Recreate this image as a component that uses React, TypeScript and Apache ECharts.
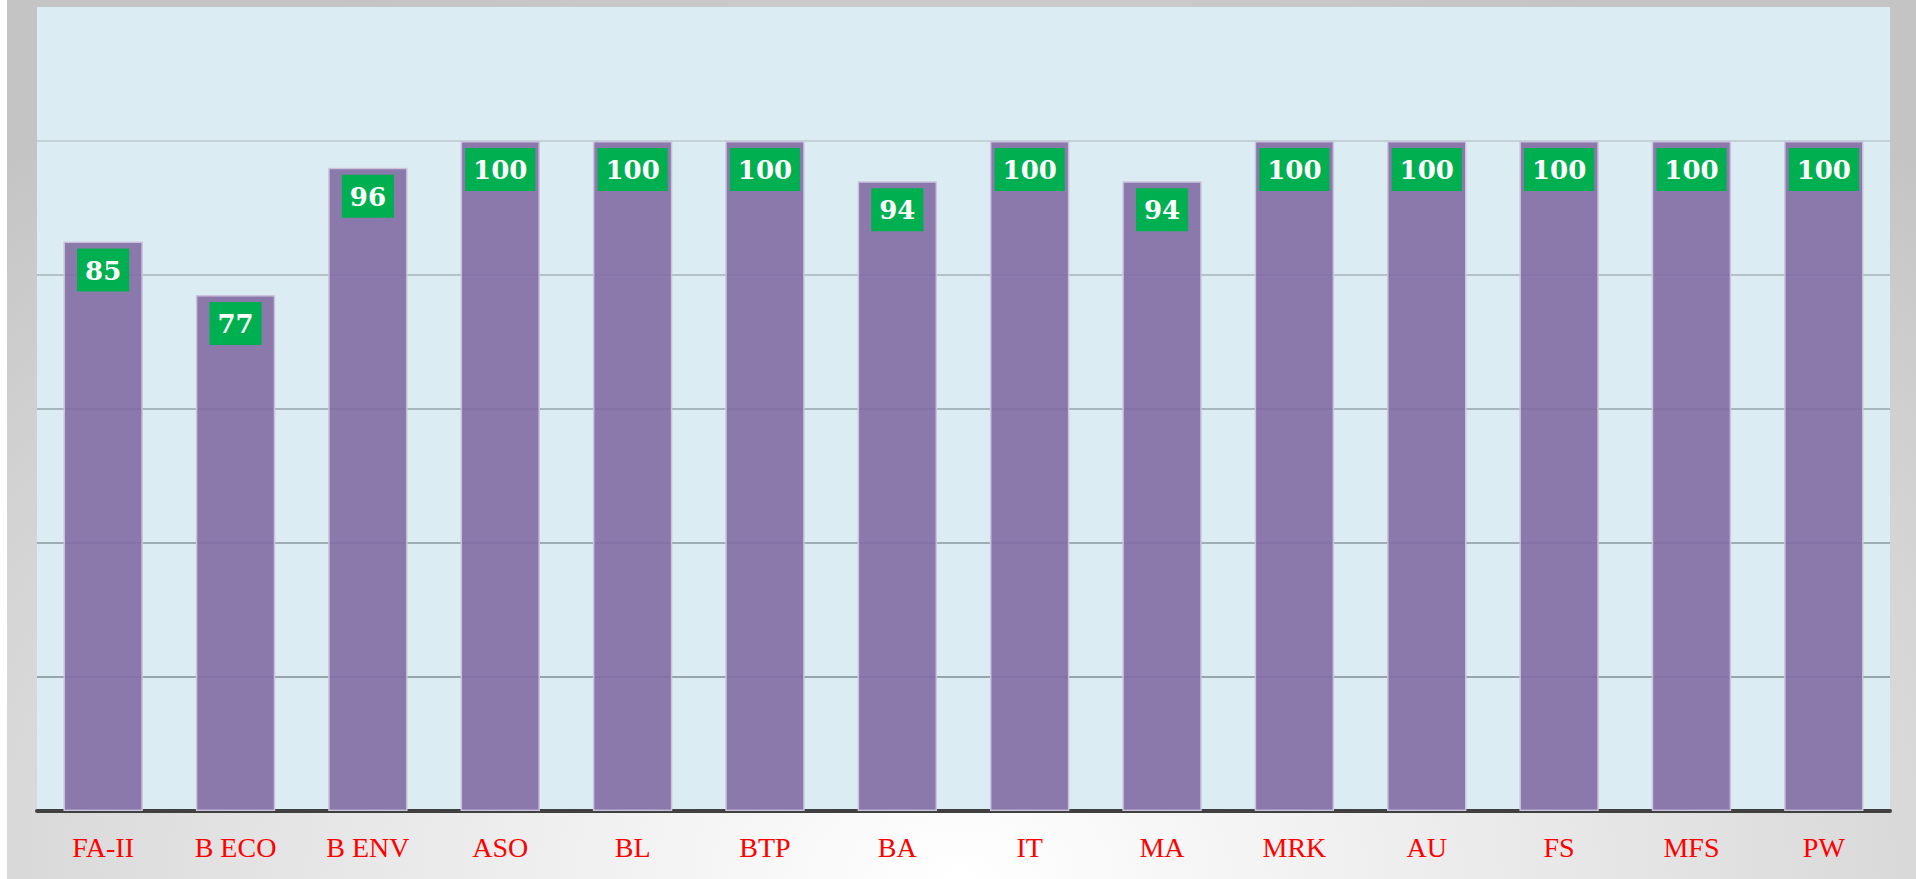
import React, { useEffect, useRef } from "react";
import * as echarts from "echarts";

const categories = ["FA-II", "B ECO", "B ENV", "ASO", "BL", "BTP", "BA", "IT", "MA", "MRK", "AU", "FS", "MFS", "PW"];
const values = [85, 77, 96, 100, 100, 100, 94, 100, 94, 100, 100, 100, 100, 100];
const gridLineColors = ["transparent", "#7f8c92", "#8a979d", "#96a3a9", "#a6b2b8", "#bcc8cf", "transparent"];

export default function App() {
  const ref = useRef<HTMLDivElement>(null);
  useEffect(() => {
    if (!ref.current) return;
    const chart = echarts.init(ref.current, undefined, { renderer: "svg" });
    chart.setOption({
      animation: false,
      backgroundColor: "transparent",
      grid: {
        left: 30,
        right: 26,
        top: 7,
        bottom: 68,
        show: true,
        backgroundColor: "#DBEDF3",
        borderWidth: 0,
        containLabel: false,
      },
      xAxis: {
        type: "category",
        data: categories,
        axisLine: { show: true, lineStyle: { color: "#404040", width: 4 } },
        axisTick: { show: false },
        axisLabel: {
          color: "#FF0000",
          fontFamily: "Liberation Serif",
          fontSize: 28,
          margin: 22,
        },
      },
      yAxis: {
        type: "value",
        min: 0,
        max: 120,
        interval: 20,
        axisLabel: { show: false },
        axisLine: { show: false },
        axisTick: { show: false },
        splitLine: { show: true, lineStyle: { color: gridLineColors, width: 1.5 } },
      },
      series: [
        {
          type: "bar",
          data: values,
          barWidth: "60%",
          itemStyle: {
            color: "rgba(130,107,164,0.9)",
            borderColor: "#CBC3DE",
            borderWidth: 1.5,
          },
          label: {
            show: true,
            position: "insideTop",
            distance: 7,
            color: "#ffffff",
            fontFamily: "DejaVu Serif",
            fontWeight: "bold",
            fontSize: 26,
            backgroundColor: "#00B050",
            padding: [8, 8, 7, 8],
            lineHeight: 28,
          },
        },
      ],
    });
    return () => chart.dispose();
  }, []);
  return (
    <div
      style={{
        position: "absolute",
        left: 7,
        top: 0,
        width: 1909,
        height: 879,
        background: "radial-gradient(ellipse 75% 110% at 50% 100%, #ffffff 0%, #e6e6e6 45%, #c4c4c4 100%)",
      }}
    >
      <div ref={ref} style={{ width: 1909, height: 879 }} />
    </div>
  );
}
